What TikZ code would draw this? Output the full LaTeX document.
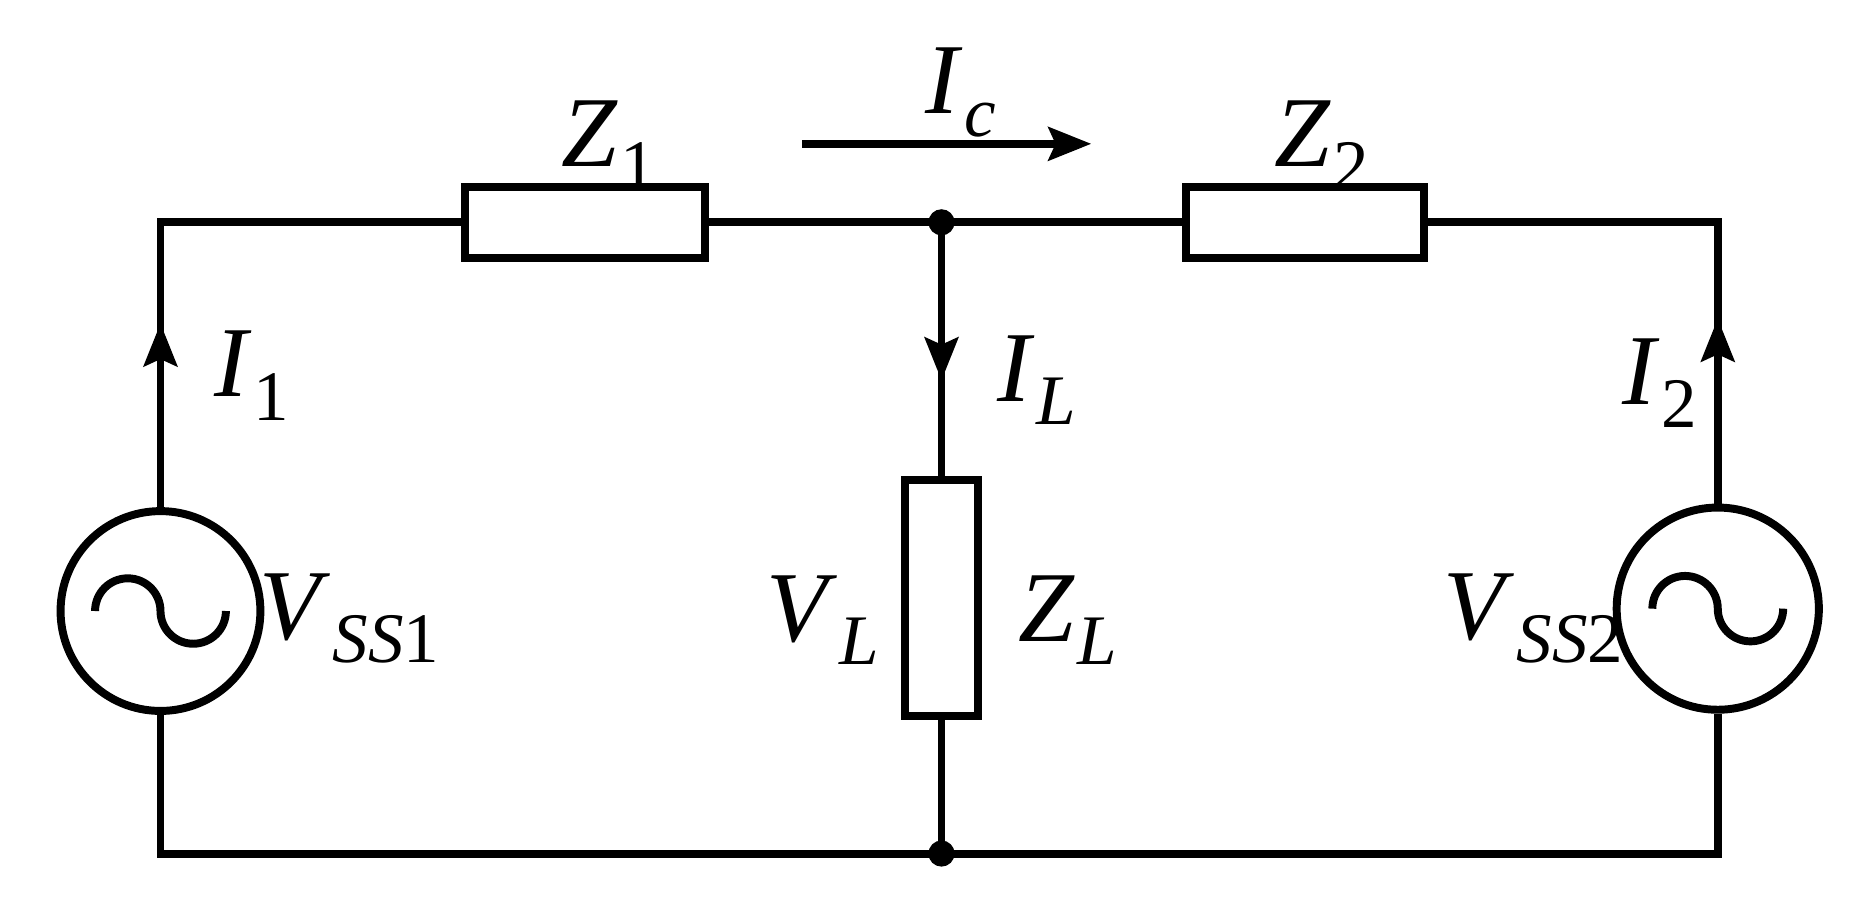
\documentclass[tikz,border=0pt]{standalone}
\usepackage{fontspec}
\setmainfont{Liberation Serif}
\usetikzlibrary{positioning,arrows.meta}
\newcommand{\lbl}[2]{\textit{#1}\kern0.02em\raisebox{-0.5ex}{\fontsize{17}{17}\selectfont#2}}
\begin{document}
\begin{tikzpicture}[x=0.01cm,y=-0.01cm,line width=1.9pt,
    imp/.style={draw,rectangle,line width=1.9pt,inner sep=0pt},
    src/.style={draw,circle,line width=1.9pt,minimum size=1.68cm,inner sep=0pt},
    dot/.style={circle,fill,inner sep=0pt,minimum size=0.22cm},
    txt/.style={font=\fontsize{24}{24}\selectfont,inner sep=0pt},
    arr/.style={-{Stealth[length=0.36cm,width=0.28cm,inset=0.06cm]}}]
    \useasboundingbox (0,0) rectangle (1568,773);
    % elements
    \node[imp,minimum width=2.02cm,minimum height=0.6cm] (z1) at (492,187) {};
    \node[imp,minimum width=2.0cm,minimum height=0.6cm] (z2) at (1098,187) {};
    \node[imp,minimum width=0.61cm,minimum height=1.99cm] (zl) at (792,503) {};
    \node[src] (s1) at (135,514) {};
    \node[src,minimum size=1.7cm] (s2) at (1445,512) {};
    \coordinate (jt) at (792,187);
    \coordinate (jb) at (792,718);
    \coordinate (tl) at (135,187);
    \coordinate (tr) at (1445,187);
    \coordinate (bl) at (135,718);
    \coordinate (br) at (1445,718);
    % wires
    \draw (s1.north) -- (tl) -- (z1.west);
    \draw (z1.east) -- (jt) -- (z2.west);
    \draw (z2.east) -- (tr) -- (s2.north);
    \draw (s1.south) -- (bl) -- (jb) -- (br) -- (s2.south);
    \draw (jt) -- (zl.north);
    \draw (zl.south) -- (jb);
    \node[dot] at (jt) {};
    \node[dot] at (jb) {};
    % current arrows
    \draw[arr] (s1.north) -- (135,272);
    \draw[arr] (s2.north) -- (1445,268);
    \draw[arr] (jt) -- (792,320);
    \coordinate (ica) at (675,121);
    \coordinate (icb) at (918,121);
    \draw[arr] (ica) -- (icb);
    % sine symbols
    \foreach \s in {s1,s2}{
      \draw ([xshift=-0.55cm]\s.center) arc (180:0:0.275cm) arc (180:360:0.275cm);
    }
    % labels
    \node[txt] (lz1) at (512,122) {\lbl{Z}{1}};
    \node[txt] (lic) at (808,78) {\lbl{I}{\textit{c}}};
    \node[txt] (lz2) at (1112,122) {\lbl{Z}{2}};
    \node[txt] (li1) at (212,316) {\lbl{I}{1}};
    \node[txt] (lil) at (872,320) {\lbl{I}{\textit{L}}};
    \node[txt] (li2) at (1396,322) {\lbl{I}{2}};
    \node[txt] (lv1) at (294,520) {\lbl{V}{\textit{SS}1}};
    \node[txt] (lvl) at (692,522) {\lbl{V}{\textit{L}}};
    \node[txt] (lzl) at (898,522) {\lbl{Z}{\textit{L}}};
    \node[txt] (lv2) at (1290,520) {\lbl{V}{\textit{SS}2}};
\end{tikzpicture}
\end{document}
